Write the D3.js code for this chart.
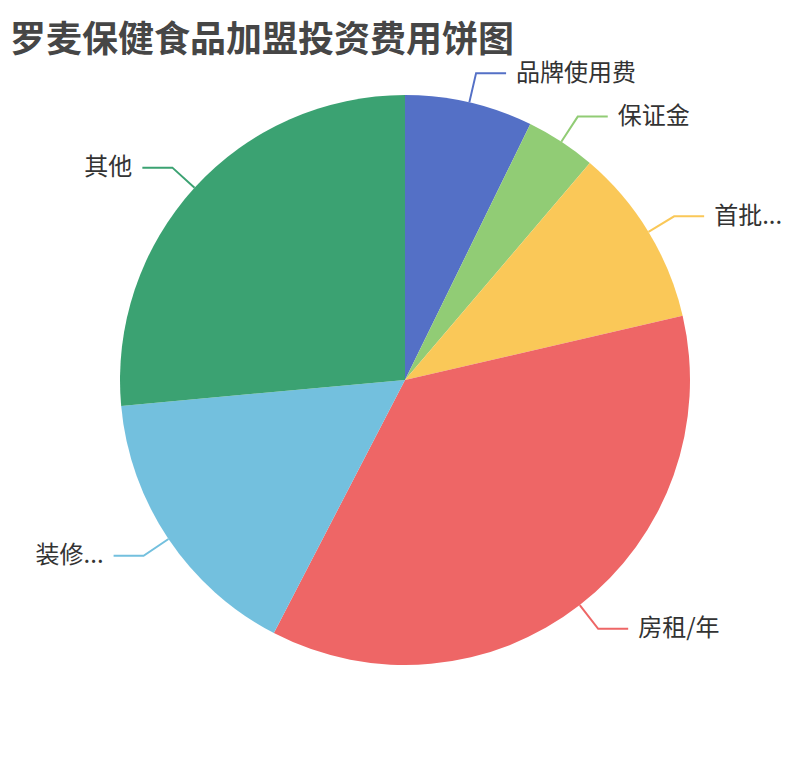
<!DOCTYPE html>
<html>
<head>
<meta charset="utf-8">
<script src="https://cdn.jsdelivr.net/npm/d3@7/dist/d3.min.js"></script>
<style>
  html, body { margin: 0; padding: 0; background: #fff; }
  svg { display: block; font-family: "Noto Sans CJK SC", "Noto Sans", sans-serif; }
</style>
</head>
<body>
<svg id="chart" width="810" height="760"></svg>
<script>
const titleText = "罗麦保健食品加盟投资费用饼图";
const categories = ["品牌使用费", "保证金", "首批...", "房租/年", "装修...", "其他"];
const values = [50000, 27500, 70000, 250000, 110000, 182500];
const colors = ["#5470c6", "#91cc75", "#fac858", "#ee6666", "#73c0de", "#3ba272"];

const W = 810, H = 760;
const cx = W / 2, cy = H / 2;
const radius = Math.min(W, H) / 2 * 0.75;
const len1 = 30, len2 = 30, gap = 10;

const svg = d3.select("#chart");

svg.append("text")
  .attr("x", 10).attr("y", 10)
  .attr("dominant-baseline", "text-before-edge")
  .attr("font-size", 36).attr("font-weight", "bold")
  .attr("fill", "#464646")
  .text(titleText);

const data = categories.map((c, i) => ({ name: c, value: values[i], color: colors[i] }));
const pie = d3.pie().sort(null).value(d => d.value);
const arcs = pie(data);
const arc = d3.arc().innerRadius(0).outerRadius(radius);

const g = svg.append("g").attr("transform", `translate(${cx},${cy})`);

g.selectAll("path.slice").data(arcs).join("path")
  .attr("class", "slice")
  .attr("d", arc)
  .attr("fill", d => d.data.color);

const lab = g.append("g");
arcs.forEach(d => {
  const a = (d.startAngle + d.endAngle) / 2;
  const sx = Math.sin(a), sy = -Math.cos(a);
  const p1 = [radius * sx, radius * sy];
  const p2 = [(radius + len1) * sx, (radius + len1) * sy];
  const dir = sx >= 0 ? 1 : -1;
  const p3 = [p2[0] + dir * len2, p2[1]];
  lab.append("polyline")
    .attr("points", [p1, p2, p3].map(p => p.join(",")).join(" "))
    .attr("fill", "none")
    .attr("stroke", d.data.color)
    .attr("stroke-width", 2);
  lab.append("text")
    .attr("x", p3[0] + dir * gap)
    .attr("y", p3[1] - 3)
    .attr("dominant-baseline", "central")
    .attr("text-anchor", dir > 0 ? "start" : "end")
    .attr("font-size", 24)
    .attr("fill", "#333")
    .text(d.data.name);
});
</script>
</body>
</html>
